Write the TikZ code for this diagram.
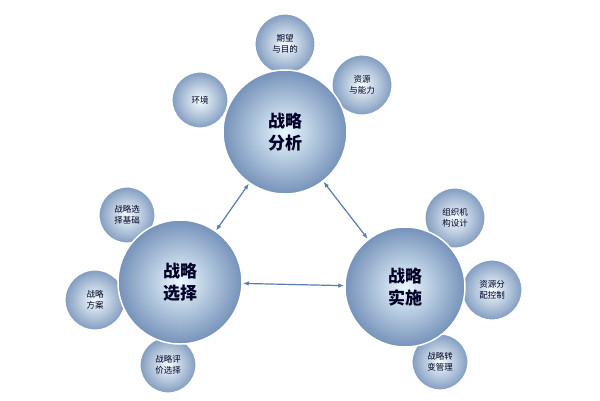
\documentclass[tikz,border=0pt]{standalone}
\usepackage{fontspec}
\setmainfont{Noto Sans CJK SC}
\usetikzlibrary{arrows.meta}
\begin{document}
\begin{tikzpicture}[x=1pt,y=-1pt,
  big/.style={circle,minimum size=124pt,draw=white,line width=1.5pt,inner color=blue!10!white!80!cyan!30,outer color={rgb,255:red,118;green,146;blue,186},font=\bfseries\fontsize{17}{22}\selectfont,text=black!85!blue,align=center},
  small/.style={circle,minimum size=60pt,inner sep=0pt,draw=white,line width=1.2pt,inner color=blue!5!white!85!cyan!20,outer color={rgb,255:red,130;green,156;blue,192},font=\fontsize{8.5}{11}\selectfont,text=black!85!blue,align=center},
  arr/.style={{Latex[length=6pt]}-{Latex[length=6pt]},line width=1.2pt,draw={rgb,255:red,90;green,125;blue,175}}]
\useasboundingbox[fill=white] (0,0) rectangle (600,400);
\node[small] (s1) at (285,44) {期望\\与目的};
\node[small,minimum size=56pt] (s2) at (200,100) {环境};
\node[small] (s3) at (362,85) {资源\\与能力};
\node[small,minimum size=56pt] (l1) at (127,215) {战略选\\择基础};
\node[small] (l2) at (95,300) {战略\\方案};
\node[small,minimum size=56pt] (l3) at (168,365) {战略评\\价选择};
\node[small] (r1) at (455,218) {组织机\\构设计};
\node[small] (r2) at (492,290) {资源分\\配控制};
\node[small,minimum size=56pt] (r3) at (440,362) {战略转\\变管理};
\node[big] (A) at (285,132) {战略\\分析};
\node[big] (B) at (180,282) {战略\\选择};
\node[big,minimum size=120pt] (C) at (405,287) {战略\\实施};
\draw[arr] (A) -- (B);
\draw[arr] (A) -- (C);
\draw[arr] (B) -- (C);
\end{tikzpicture}
\end{document}
